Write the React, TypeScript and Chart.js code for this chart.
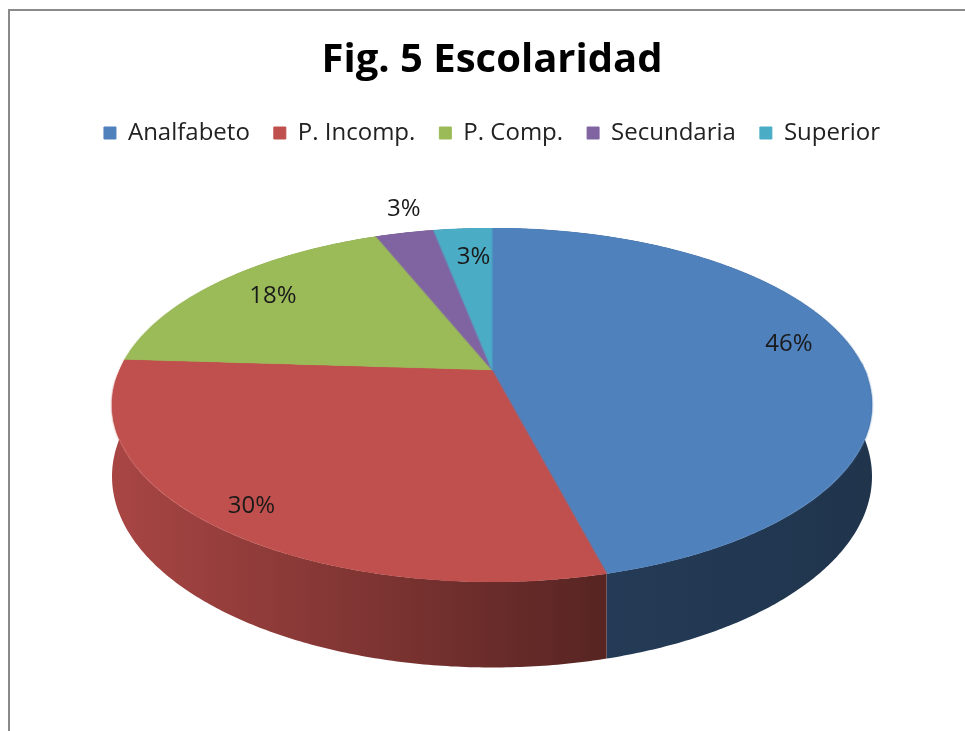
import { useEffect, useRef } from "react";
import { Chart, registerables } from "chart.js";

Chart.register(...registerables);

// ---- data ----
const categories = ["Analfabeto", "P. Incomp.", "P. Comp.", "Secundaria", "Superior"];
const values = [46, 30, 18, 3, 3];
const colors = ["#4F81BD", "#C0504D", "#9BBB59", "#8064A2", "#4BACC6"];
const titleText = "Fig. 5 Escolaridad";

// ---- style (not data) ----
const labelRadius = [0.82, 0.9, 0.81, 1.21, 0.77];
const labelNudge = [
  [0, -9],
  [7, 0],
  [4, 0],
  [14, 0],
  [5, 0],
];
const VIEW = { cx: 492, cy: 370, a: 372.5, b: 170, p: 0.1976, depth: 68.7 };
const FONT = "'Open Sans', 'Liberation Sans', sans-serif";

function shade(hex: string, k: number) {
  const n = parseInt(hex.slice(1), 16);
  const r = Math.round(((n >> 16) & 255) * k);
  const g = Math.round(((n >> 8) & 255) * k);
  const b = Math.round((n & 255) * k);
  return `rgb(${r},${g},${b})`;
}

function proj(u: number, v: number, h: number) {
  const w = 1 - VIEW.p * v;
  return { x: VIEW.cx + (VIEW.a * u) / w, y: VIEW.cy + (VIEW.b * v + h) / w };
}

const pie3d = {
  id: "pie3d",
  afterDatasetsDraw(chart: any) {
    const meta = chart.getDatasetMeta(0);
    const arcs = meta.data as any[];
    if (!arcs.length) return;
    const ox = arcs[0].x;
    const oy = arcs[0].y;
    const R = arcs[0].outerRadius;
    const ctx: CanvasRenderingContext2D = chart.ctx;
    const size = Math.ceil(2 * R) + 4;
    const half = size / 2;
    const off = document.createElement("canvas");
    off.width = size;
    off.height = size;
    const octx = off.getContext("2d")!;
    const sx = ox - half;
    const sy = oy - half;
    octx.drawImage(chart.canvas, sx, sy, size, size, 0, 0, size, size);

    ctx.save();
    ctx.setTransform(1, 0, 0, 1, 0, 0);
    ctx.clearRect(0, sy - 2, chart.width, size + 4);

    // sides (extrusion) of each slice
    arcs.forEach((arc, i) => {
      const s = arc.startAngle;
      const e = arc.endAngle;
      const n = Math.max(2, Math.ceil((e - s) / 0.01));
      ctx.beginPath();
      for (let k = 0; k <= n; k++) {
        const ang = s + ((e - s) * k) / n;
        const pt = proj(Math.cos(ang), Math.sin(ang), 0);
        if (k === 0) ctx.moveTo(pt.x, pt.y);
        else ctx.lineTo(pt.x, pt.y);
      }
      for (let k = n; k >= 0; k--) {
        const ang = s + ((e - s) * k) / n;
        const pt = proj(Math.cos(ang), Math.sin(ang), VIEW.depth);
        ctx.lineTo(pt.x, pt.y);
      }
      ctx.closePath();
      const g = ctx.createLinearGradient(VIEW.cx - VIEW.a * 1.03, 0, VIEW.cx + VIEW.a * 1.03, 0);
      const c = colors[i % colors.length];
      g.addColorStop(0, shade(c, 0.88));
      g.addColorStop(0.64, shade(c, 0.46));
      g.addColorStop(1, shade(c, 0.4));
      ctx.fillStyle = g;
      ctx.fill();
    });

    // top face: perspective warp of the flat pie, row by row
    ctx.imageSmoothingEnabled = true;
    (ctx as any).imageSmoothingQuality = "high";
    const yTop = Math.floor(VIEW.cy - VIEW.b / (1 + VIEW.p)) - 1;
    const yBot = Math.ceil(VIEW.cy + VIEW.b / (1 - VIEW.p)) + 1;
    const toV = (y: number) => {
      const t = (y - VIEW.cy) / VIEW.b;
      return Math.max(-1, Math.min(1, t / (1 + VIEW.p * t)));
    };
    for (let y = yTop; y <= yBot; y++) {
      const v0 = toV(y);
      const v1 = toV(y + 1);
      if (v1 <= v0) continue;
      const vm = (v0 + v1) / 2;
      const w = 1 - VIEW.p * vm;
      const srcY = half + R * v0;
      const srcH = R * (v1 - v0);
      const dw = (VIEW.a / w) * (size / R);
      ctx.drawImage(off, 0, srcY, size, srcH, VIEW.cx - dw / 2, y, dw, 1);
    }

    // data labels
    const total = values.reduce((s, v) => s + v, 0);
    ctx.font = `24px ${FONT}`;
    ctx.textAlign = "center";
    ctx.textBaseline = "middle";
    ctx.fillStyle = "#1a1a1a";
    arcs.forEach((arc, i) => {
      const mid = (arc.startAngle + arc.endAngle) / 2;
      const f = labelRadius[i];
      const pt = proj(f * Math.cos(mid), f * Math.sin(mid), 0);
      const [nx, ny] = labelNudge[i];
      ctx.fillText(`${Math.round((values[i] / total) * 100)}%`, pt.x + nx, pt.y + ny);
    });
    ctx.restore();
  },
};

export default function App() {
  const ref = useRef<HTMLCanvasElement>(null);
  useEffect(() => {
    const chart = new Chart(ref.current!, {
      type: "pie",
      data: {
        labels: categories,
        datasets: [
          {
            data: values,
            backgroundColor: colors,
            borderColor: colors,
            borderWidth: 1,
          },
        ],
      },
      options: {
        responsive: false,
        maintainAspectRatio: false,
        devicePixelRatio: 1,
        animation: false,
        events: [],
        plugins: {
          title: {
            display: true,
            text: titleText,
            color: "#000",
            font: { family: FONT, size: 40, weight: "bold" },
            padding: { top: 37, bottom: 12 },
          },
          legend: {
            display: true,
            position: "top",
            labels: {
              boxWidth: 12,
              boxHeight: 12,
              padding: 24,
              color: "#222",
              font: { family: FONT, size: 24 },
            },
          },
          tooltip: { enabled: false },
        },
      },
      plugins: [pie3d],
    } as any);
    return () => chart.destroy();
  }, []);
  return (
    <>
      <div
        style={{
          position: "fixed",
          left: 8,
          top: 9,
          width: 990,
          height: 740,
          borderTop: "2px solid #8a8a8a",
          borderLeft: "2px solid #8a8a8a",
          boxSizing: "border-box",
        }}
      />
      <canvas
        ref={ref}
        width={984}
        height={2000}
        style={{ position: "fixed", left: 0, top: 0, width: 984, height: 2000 }}
      />
    </>
  );
}
